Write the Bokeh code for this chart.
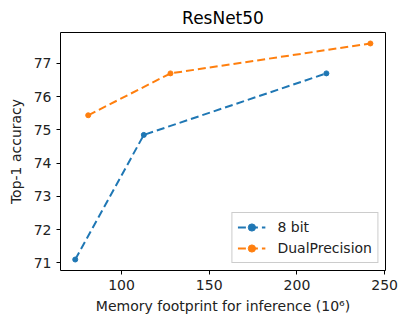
from bokeh.plotting import figure
from bokeh.models import FixedTicker, Range1d, Legend
from bokeh.embed import file_html
from bokeh.resources import INLINE

x_8bit = [73.6, 112.7, 216.8]
y_8bit = [71.1, 74.85, 76.7]
x_dual = [81.0, 127.9, 241.9]
y_dual = [75.44, 76.7, 77.6]
x_ticks = [100, 150, 200, 250]
y_ticks = [71, 72, 73, 74, 75, 76, 77]

FONT = "DejaVu Sans"

p = figure(frame_width=325, frame_height=238, output_backend="svg", toolbar_location=None,
           x_range=Range1d(65.2, 250.5), y_range=Range1d(70.77, 77.93),
           title="ResNet50")
p.min_border_left = 60
p.min_border_right = 14
p.min_border_top = 30
p.min_border_bottom = 52

p.title.align = "center"
p.title.text_font = FONT
p.title.text_font_size = "17px"
p.title.text_font_style = "normal"
p.title.text_color = "black"

p.xgrid.visible = False
p.ygrid.visible = False
p.outline_line_color = "black"
p.outline_line_width = 1
p.background_fill_color = "white"
p.border_fill_color = "white"

for ax in (p.xaxis[0], p.yaxis[0]):
    ax.major_label_text_font = FONT
    ax.major_label_text_font_size = "14px"
    ax.major_label_text_color = "#222222"
    ax.axis_label_text_font = FONT
    ax.axis_label_text_font_size = "14px"
    ax.axis_label_text_font_style = "normal"
    ax.axis_label_text_color = "#222222"
    ax.major_tick_in = 0
    ax.major_tick_out = 4
    ax.minor_tick_in = 0
    ax.minor_tick_out = 0
    ax.axis_line_color = None
    ax.major_tick_line_color = "black"

p.xaxis[0].ticker = FixedTicker(ticks=x_ticks)
p.yaxis[0].ticker = FixedTicker(ticks=y_ticks)
p.xaxis[0].axis_label = "Memory footprint for inference (10\u2076)"
p.yaxis[0].axis_label = "Top-1 accuracy"
p.xaxis[0].axis_label_standoff = 5
p.yaxis[0].axis_label_standoff = 7

blue = "#1f77b4"
orange = "#ff7f0e"

l1 = p.line(x_8bit, y_8bit, line_color=blue, line_width=2, line_dash="8 4")
s1 = p.scatter(x_8bit, y_8bit, size=5, color=blue)
l2 = p.line(x_dual, y_dual, line_color=orange, line_width=2, line_dash="8 4")
s2 = p.scatter(x_dual, y_dual, size=5, color=orange)

legend = Legend(items=[("8 bit", [l1, s1]), ("DualPrecision", [l2, s2])],
                location="bottom_right")
legend.label_text_font = FONT
legend.label_text_font_size = "14px"
legend.label_text_color = "#222222"
legend.border_line_color = "#cccccc"
legend.border_line_alpha = 1
legend.background_fill_alpha = 0.8
legend.glyph_width = 28
legend.glyph_height = 18
legend.spacing = 3
legend.padding = 5
legend.margin = 7
legend.label_standoff = 12
p.add_layout(legend)

open("out.html", "w").write(file_html(p, INLINE))
